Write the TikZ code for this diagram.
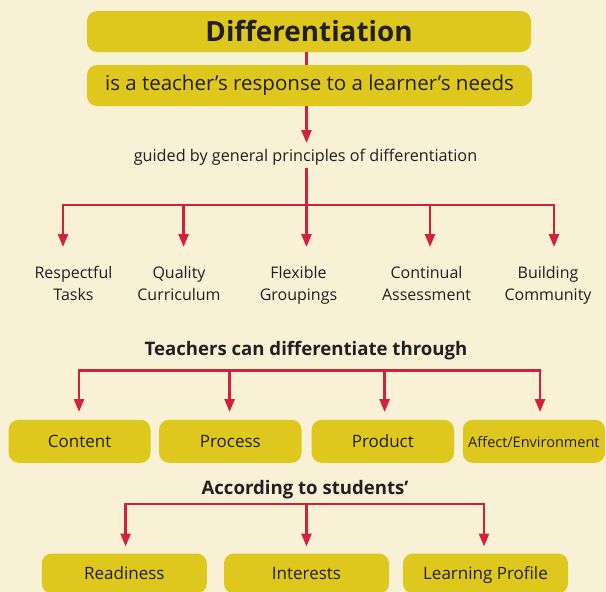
\documentclass[tikz,border=0pt]{standalone}
\usepackage{fontspec}
\setmainfont{Open Sans}
\usetikzlibrary{arrows.meta}
\definecolor{bg}{HTML}{F8F1D6}
\definecolor{ybox}{HTML}{DEC81E}
\definecolor{rd}{HTML}{D2213A}
\definecolor{ink}{HTML}{231F20}
\begin{document}
\begin{tikzpicture}[x=1pt,y=-1pt,
  box/.style={fill=ybox, rounded corners=10pt, text=ink, inner sep=0pt, align=center, text height=13.5pt, text depth=0.7pt},
  arr/.style={draw=rd, line width=2.6pt, -{Triangle[width=10pt,length=13pt]}},
  ln/.style={draw=rd, line width=2.6pt},
  lbl/.style={text=ink, font=\fontsize{16}{22}\selectfont, align=center, inner sep=0pt},
  head/.style={text=ink, font=\fontsize{18.6}{22}\selectfont\bfseries, inner sep=0pt},
  boxtxt/.style={font=\fontsize{17}{20}\selectfont}]
\fill[bg] (0,0) rectangle (606,592);
\clip (0,0) rectangle (606,592);
% top boxes
\node[box, minimum width=444pt, minimum height=41pt, font=\fontsize{27.8}{30}\selectfont\bfseries, text height=20pt, text depth=0pt] (title) at (309,31.5) {Differentiation};
\node[box, minimum width=445pt, minimum height=41pt, font=\fontsize{20.5}{24}\selectfont, text height=15pt, text depth=4.5pt] (resp) at (309.5,85.5) {is a teacher’s response to a learner’s needs};
\draw[ln] (306.5,52) -- (306.5,65);
\coordinate (t0) at (306.5,143);
\draw[arr] (resp.south -| t0) -- (t0);
\node[text=ink, font=\fontsize{16.2}{18}\selectfont, inner sep=0pt] (guided) at (305.5,157) {guided by general principles of differentiation};
% first branch
\coordinate (j1) at (306.5,205);
\draw[ln] (guided.south -| j1) ++(0,3) -- (j1);
\coordinate (t1) at (63,247);
\coordinate (t2) at (183.6,247);
\coordinate (t3) at (306.5,247);
\coordinate (t4) at (430,247);
\coordinate (t5) at (554,247);
\foreach \t in {t1,t2,t3,t4,t5} \draw[arr] (j1) -| (\t);
\node[lbl] (p1) at (73.5,285) {Respectful\strut\\Tasks\strut};
\node[lbl] (p2) at (179,285) {Quality\strut\\Curriculum\strut};
\node[lbl] (p3) at (298.5,285) {Flexible\strut\\Groupings\strut};
\node[lbl] (p4) at (426.5,285) {Continual\strut\\Assessment\strut};
\node[lbl] (p5) at (548,285) {Building\strut\\Community\strut};
% second branch
\node[head] (teach) at (306,350.5) {Teachers can differentiate through};
\coordinate (j2) at (306.5,370.5);
\coordinate (u1) at (79,412);
\coordinate (u2) at (229.6,412);
\coordinate (u3) at (384.6,412);
\coordinate (u4) at (540,412);
\foreach \u in {u1,u2,u3,u4} \draw[arr] (j2) -| (\u);
\node[box, boxtxt, minimum width=142pt, minimum height=43pt] (content) at (79.6,441.3) {Content};
\node[box, boxtxt, minimum width=142.5pt, minimum height=43pt] (process) at (230.3,441.3) {Process};
\node[box, boxtxt, minimum width=142.4pt, minimum height=43pt] (product) at (382.8,441.3) {Product};
\node[box, minimum width=142.3pt, minimum height=43pt, font=\fontsize{14.5}{17}\selectfont] (affect) at (533.9,441.3) {Affect/Environment};
% third branch
\node[head] (accord) at (305,489.5) {According to students’};
\coordinate (j3) at (306.5,504);
\coordinate (v1) at (125.6,546.5);
\coordinate (v2) at (306.5,546.5);
\coordinate (v3) at (484,546.5);
\foreach \v in {v1,v2,v3} \draw[arr] (j3) -| (\v);
\node[box, boxtxt, minimum width=165pt, minimum height=40pt] (ready) at (124.3,573.5) {Readiness};
\node[box, boxtxt, minimum width=165pt, minimum height=40pt] (interest) at (306.5,573.5) {Interests};
\node[box, boxtxt, minimum width=165pt, minimum height=40pt] (profile) at (485.5,573.5) {Learning Profile};
\end{tikzpicture}
\end{document}
